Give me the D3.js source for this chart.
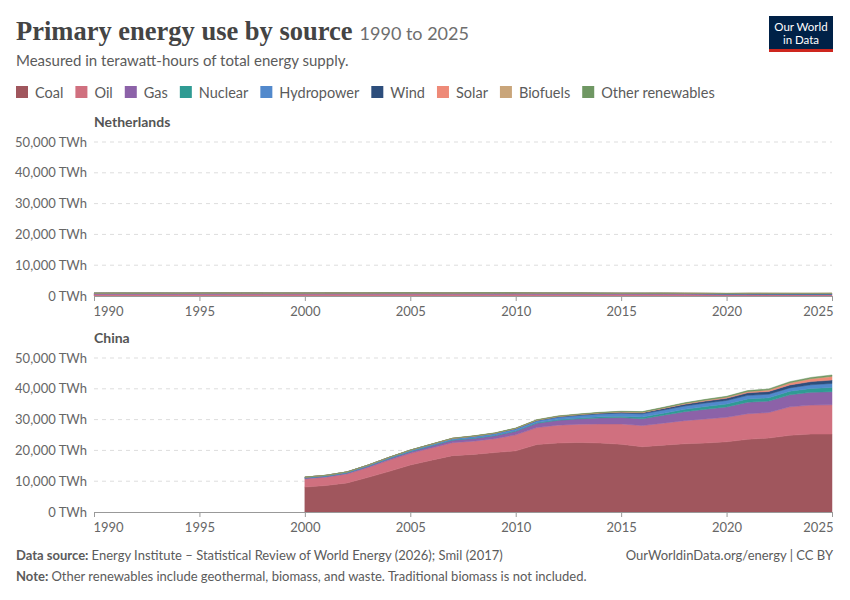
<!DOCTYPE html>
<html>
<head>
<meta charset="utf-8">
<script src="https://cdn.jsdelivr.net/npm/d3@7"></script>
<style>
  body { margin: 0; background: #fff; }
  svg text { font-family: Lato, "Noto Sans", sans-serif; }
</style>
</head>
<body>
<svg id="chart" width="850" height="600"></svg>
<script>
// sources, in stacking order
var sources = ['Coal', 'Oil', 'Gas', 'Nuclear', 'Hydropower', 'Wind', 'Solar', 'Biofuels', 'Other renewables'];
var colors = ['#a0565d', '#d0707f', '#8c62a8', '#2f9b93', '#5289cc', '#2d4e7c', '#ee8a78', '#c9a57a', '#6f9763'];

var yTicks = [0, 10000, 20000, 30000, 40000, 50000];
var xTicks = [1990, 1995, 2000, 2005, 2010, 2015, 2020, 2025];

// Netherlands, 1990-2025 (TWh)
var nlYears = [1990,1991,1992,1993,1994,1995,1996,1997,1998,1999,2000,2001,2002,2003,2004,2005,2006,2007,2008,2009,2010,2011,2012,2013,2014,2015,2016,2017,2018,2019,2020,2021,2022,2023,2024,2025];
var nlCoal = [105,100,98,95,100,105,100,98,95,90,88,95,98,100,100,95,90,92,90,85,88,85,95,110,112,100,82,72,65,40,28,32,38,30,26,24];
var nlOil = [400,405,410,410,400,410,420,430,435,440,445,455,450,455,465,470,460,455,450,440,445,430,420,400,390,395,400,405,400,395,350,360,370,365,360,360];
var nlGas = [390,420,410,420,410,420,450,420,410,400,400,410,410,415,420,410,400,395,410,420,450,400,390,400,360,340,350,355,340,330,320,320,270,250,245,250];
var nlNuclear = [10,10,10,10,10,11,14,7,10,10,10,10,10,10,10,10,9,10,11,11,10,10,10,7,10,10,10,8,8,10,10,9,10,10,9,9];
var nlHydro = [0.3,0.3,0.3,0.3,0.3,0.3,0.2,0.2,0.3,0.2,0.4,0.3,0.3,0.2,0.2,0.2,0.3,0.3,0.3,0.3,0.3,0.2,0.3,0.3,0.3,0.2,0.3,0.2,0.2,0.2,0.1,0.2,0.1,0.1,0.2,0.2];
var nlWind = [0.2,0.5,0.7,1,1.2,2,2.4,2.9,3.8,3.8,5,5.5,6,8,11,12,17,20,25,27,25,30,30,34,36,46,50,65,67,74,98,112,138,155,162,172];
var nlSolar = [0,0,0,0,0,0,0,0,0,0,0,0,0.1,0.2,0.2,0.2,0.2,0.3,0.3,0.3,0.4,0.6,0.9,1.2,1.9,2.7,3.3,5.5,9,13,21,27,40,50,55,58];
var nlBiofuels = [0,0,0,0,0,0,0,0,0,0,0,0,0,0,0,0.5,1,2,5,6,5,5,5,5,4,4,4,5,6,8,9,8,8,9,9,9];
var nlOther = [4,5,6,7,8,9,10,12,14,15,17,18,20,22,25,27,28,30,32,33,34,34,35,34,33,34,35,37,38,40,42,40,38,37,36,36];

// China, 2000-2025 (TWh)
var cnYears = [2000,2001,2002,2003,2004,2005,2006,2007,2008,2009,2010,2011,2012,2013,2014,2015,2016,2017,2018,2019,2020,2021,2022,2023,2024,2025];
var cnCoal = [8100,8600,9450,11250,13200,15250,16800,18300,18700,19300,19850,21900,22400,22600,22400,22000,21200,21700,22150,22400,22800,23600,24000,24900,25300,25300];
var cnOil = [2650,2700,2900,3200,3650,3800,4000,4200,4300,4500,5200,5500,5800,5900,6200,6600,6850,7150,7500,7800,7950,8300,8300,9250,9400,9500];
var cnGas = [280,300,330,380,440,510,620,760,870,960,1150,1400,1550,1750,1950,2050,2200,2550,2900,3150,3350,3750,3700,3900,4150,4250];
var cnNuclear = [45,50,70,120,135,140,145,165,180,185,195,230,260,290,350,450,560,650,780,900,960,1060,1080,1150,1250,1400];
var cnHydro = [230,250,260,270,320,360,400,440,520,550,620,620,780,820,950,1000,1050,1060,1080,1140,1160,1160,1160,1100,1200,1300];
var cnWind = [1,1,2,2,3,5,10,20,40,60,100,160,220,270,300,340,400,480,560,620,700,820,880,950,1030,1100];
var cnSolar = [0,0,0,0,0,0,0,0,0,0,1,3,6,12,25,45,75,120,180,230,280,340,420,600,850,1100];
var cnBiofuels = [5,5,5,10,15,20,25,30,35,40,45,50,55,60,65,70,75,80,85,90,100,110,120,130,140,150];
var cnOther = [30,35,40,45,50,55,60,70,80,90,100,110,120,130,140,160,180,200,220,240,260,280,300,330,360,390];

function rows(years, cols) {
  return years.map(function(y, i) {
    var r = { year: y };
    sources.forEach(function(s, j) { r[s] = cols[j][i]; });
    return r;
  });
}

var panels = [
  { name: 'Netherlands', data: rows(nlYears, [nlCoal, nlOil, nlGas, nlNuclear, nlHydro, nlWind, nlSolar, nlBiofuels, nlOther]), top: 142, bottom: 296 },
  { name: 'China', data: rows(cnYears, [cnCoal, cnOil, cnGas, cnNuclear, cnHydro, cnWind, cnSolar, cnBiofuels, cnOther]), top: 358, bottom: 512 }
];

var svg = d3.select('#chart');
var left = 94, right = 832;

// header
var title = svg.append('text')
  .attr('x', 16).attr('y', 40)
  .style('font-family', '"Liberation Serif", "DejaVu Serif", serif')
  .style('font-size', '26.5px').style('font-weight', 'bold')
  .style('fill', '#444')
  .text('Primary energy use by source');
svg.append('text')
  .attr('x', 16 + title.node().getComputedTextLength() + 7).attr('y', 40)
  .style('font-size', '18px').style('fill', '#6e6e6e')
  .text('1990 to 2025');
svg.append('text')
  .attr('x', 16).attr('y', 66)
  .style('font-size', '15px').style('fill', '#5b5b5b')
  .text('Measured in terawatt-hours of total energy supply.');

// logo
var logo = svg.append('g').attr('transform', 'translate(769,16)');
logo.append('rect').attr('width', 64).attr('height', 36).attr('fill', '#002147');
logo.append('rect').attr('y', 33).attr('width', 64).attr('height', 3).attr('fill', '#ce261e');
logo.append('text').attr('x', 32).attr('y', 15).attr('text-anchor', 'middle')
  .style('font-size', '11.5px').style('fill', '#fff').text('Our World');
logo.append('text').attr('x', 32).attr('y', 28).attr('text-anchor', 'middle')
  .style('font-size', '11.5px').style('fill', '#fff').text('in Data');

// legend
var lx = 16;
sources.forEach(function(s, i) {
  svg.append('rect').attr('x', lx).attr('y', 86).attr('width', 12).attr('height', 12).attr('fill', colors[i]);
  var t = svg.append('text').attr('x', lx + 19).attr('y', 97.5)
    .style('font-size', '14.5px').style('fill', '#5b5b5b').text(s);
  lx += 19 + t.node().getComputedTextLength() + 12;
});

var x = d3.scaleLinear().domain([1990, 2025]).range([left, right]);
var color = d3.scaleOrdinal().domain(sources).range(colors);

panels.forEach(function(p) {
  var y = d3.scaleLinear().domain([0, 50000]).range([p.bottom, p.top]);
  var g = svg.append('g');

  g.append('text').attr('x', left).attr('y', p.top - 15)
    .style('font-size', '14px').style('font-weight', 'bold').style('fill', '#555')
    .text(p.name);

  // gridlines
  g.append('g').selectAll('line')
    .data(yTicks.filter(function(d) { return d > 0; }))
    .join('line')
    .attr('x1', left).attr('x2', right)
    .attr('y1', function(d) { return y(d); }).attr('y2', function(d) { return y(d); })
    .attr('stroke', '#ddd').attr('stroke-dasharray', '4,4');

  var yaxis = d3.axisLeft(y).tickValues(yTicks).tickSize(0).tickPadding(7)
    .tickFormat(function(d) { return d3.format(',')(d) + ' TWh'; });
  g.append('g').attr('transform', 'translate(' + left + ',0)').call(yaxis)
    .call(function(a) { a.select('.domain').remove(); })
    .selectAll('text').style('font-size', '13px').style('fill', '#666')
    .style('font-family', 'Lato, sans-serif');

  var stack = d3.stack().keys(sources);
  var area = d3.area()
    .x(function(d) { return x(d.data.year); })
    .y0(function(d) { return y(d[0]); })
    .y1(function(d) { return y(d[1]); });

  g.append('g').selectAll('path')
    .data(stack(p.data))
    .join('path')
    .attr('d', area)
    .attr('fill', function(d) { return color(d.key); })
    .attr('stroke', function(d) { return color(d.key); })
    .attr('stroke-width', 0.5);

  var xaxis = d3.axisBottom(x).tickValues(xTicks).tickFormat(d3.format('d'))
    .tickSize(5).tickSizeOuter(0).tickPadding(6);
  var ax = g.append('g').attr('transform', 'translate(0,' + p.bottom + ')').call(xaxis);
  ax.select('.domain').attr('stroke', '#999');
  ax.selectAll('line').attr('stroke', '#999');
  ax.selectAll('text').style('font-size', '13px').style('fill', '#666')
    .style('font-family', 'Lato, sans-serif')
    .attr('text-anchor', function(d, i) { return i === 0 ? 'start' : (i === xTicks.length - 1 ? 'end' : 'middle'); })
    .attr('dx', function(d, i) { return i === 0 ? -1 : (i === xTicks.length - 1 ? 1 : 0); });
});

// footer
var src = svg.append('text').attr('x', 16).attr('y', 560).style('font-size', '13px').style('fill', '#5b5b5b');
src.append('tspan').style('font-weight', 'bold').text('Data source: ');
src.append('tspan').text('Energy Institute – Statistical Review of World Energy (2026); Smil (2017)');
svg.append('text').attr('x', 833).attr('y', 560).attr('text-anchor', 'end')
  .style('font-size', '13px').style('fill', '#5b5b5b').text('OurWorldinData.org/energy | CC BY');
var note = svg.append('text').attr('x', 16).attr('y', 581).style('font-size', '13px').style('fill', '#5b5b5b');
note.append('tspan').style('font-weight', 'bold').text('Note: ');
note.append('tspan').text('Other renewables include geothermal, biomass, and waste. Traditional biomass is not included.');
</script>
</body>
</html>
